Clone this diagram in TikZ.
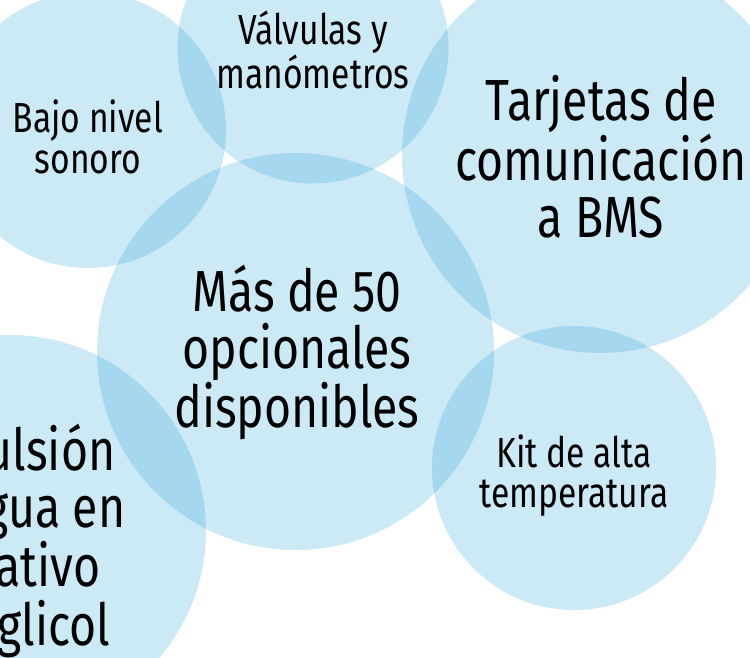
\documentclass[tikz,border=0pt]{standalone}
\usepackage{fontspec}
\setmainfont{Fira Sans}[FakeStretch=0.8]
\definecolor{bubblecol}{RGB}{51,167,219}
\tikzset{
  bubble/.style={circle, fill=bubblecol, fill opacity=0.25, draw=none, inner sep=0pt},
  bigtext/.style={align=center, inner sep=0pt, anchor=base, text=black, font=\fontsize{58}{57}\selectfont},
  smalltext/.style={align=center, inner sep=0pt, anchor=base, text=black, font=\fontsize{42}{41}\selectfont},
  kittext/.style={align=center, inner sep=0pt, anchor=base, text=black, font=\fontsize{42}{40}\selectfont}
}
\begin{document}
\begin{tikzpicture}[x=1pt,y=-1pt]
\useasboundingbox (0,0) rectangle (750,657);
\clip (0,0) rectangle (750,657);
% bubbles
\node[bubble, minimum size=276pt] (bajo) at (88,130) {};
\node[bubble, minimum size=271pt] (valv) at (313,48) {};
\node[bubble, minimum size=396pt] (tarj) at (600,155) {};
\node[bubble, minimum size=397pt] (mas) at (295.5,351.5) {};
\node[bubble, minimum size=284pt] (kit) at (574,468) {};
\node[bubble, minimum size=392pt] (imp) at (10,531) {};
% texts (base anchor = baseline of last line)
\node[smalltext] (tbajo) at (88,173) {Bajo nivel\\sonoro};
\node[smalltext] (tvalv) at (313,88) {Válvulas y\\manómetros};
\node[bigtext] (ttarj) at (601,237) {Tarjetas de\\comunicación\\a BMS};
\node[bigtext] (tmas) at (297,427) {Más de 50\\opcionales\\disponibles};
\node[kittext] (tkit) at (574,507) {Kit de alta\\temperatura};
\node[bigtext] (timp) at (10,645) {Impulsión\\de agua en\\negativo\\con glicol};
\end{tikzpicture}
\end{document}
